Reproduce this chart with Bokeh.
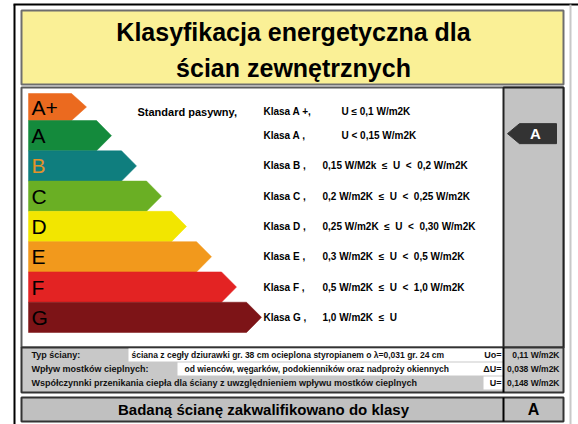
from bokeh.plotting import figure
from bokeh.models import Range1d
from bokeh.core.properties import value
from bokeh.embed import file_html
from bokeh.resources import INLINE

# ---- data ----
title_lines = ["Klasyfikacja energetyczna dla", "ścian zewnętrznych"]
classes = ["A+", "A", "B", "C", "D", "E", "F", "G"]
class_labels = ["Klasa A +,", "Klasa A ,", "Klasa B ,", "Klasa C ,", "Klasa D ,",
                "Klasa E ,", "Klasa F ,", "Klasa G ,"]
NB = "\u00a0"
class_conditions = [
    "U ≤ 0,1 W/m2K",
    "U < 0,15 W/m2K",
    f"0,15 W/M2k{NB}{NB}≤{NB}{NB}U{NB}{NB}<{NB}{NB}0,2 W/m2K",
    f"0,2 W/m2K{NB}{NB}≤{NB}{NB}U{NB}{NB}<{NB}{NB}0,25 W/m2K",
    f"0,25 W/m2K{NB}{NB}≤{NB}{NB}U{NB}{NB}<{NB}{NB}0,30 W/m2K",
    f"0,3 W/m2K{NB}{NB}≤{NB}{NB}U{NB}{NB}<{NB}{NB}0,5 W/m2K",
    f"0,5 W/m2K{NB}{NB}≤{NB}{NB}U{NB}{NB}<{NB}{NB}1,0 W/m2K",
    f"1,0 W/m2K{NB}{NB}≤{NB}{NB}U",
]
standard_note = "Standard pasywny,"
info_labels = ["Typ ściany:", "Wpływ mostków cieplnych:",
               "Współczynnki przenikania ciepła dla ściany z uwzględnieniem wpływu mostków cieplnych"]
info_values = ["ściana z cegły dziurawki gr. 38 cm ocieplona styropianem o λ=0,031 gr. 24 cm",
               "od wienców, węgarków, podokienników oraz nadproży okiennych", ""]
u_symbols = ["Uo=", "ΔU=", "U="]
u_values = ["0,11 W/m2K", "0,038 W/m2K", "0,148 W/m2K"]
result_text = "Badaną ścianę zakwalifikowano do klasy"
result_class = "A"

# ---- styles ----
palette = ["#EB6A1F", "#148A3C", "#0F7E7E", "#6AAF24", "#F2E600",
           "#F2991C", "#E32323", "#7D1417"]
letter_colors = ["black", "black", "#E4922A", "black", "black", "black", "black", "black"]
FONT = value("Liberation Sans")

p = figure(width=578, height=424, x_range=Range1d(0, 578), y_range=Range1d(424, 0),
           output_backend="svg", toolbar_location=None, min_border=0)
p.axis.visible = False
p.grid.visible = False
p.outline_line_color = None
p.background_fill_color = "white"
p.border_fill_color = "white"

# outer frame
p.line([14, 14], [4, 424], line_color="black", line_width=2)
p.line([13, 578], [4, 4], line_color="black", line_width=2)
p.line([570, 570], [4, 424], line_color="#C8C8C8", line_width=2)

# title box
p.quad(left=[21], right=[563], top=[10], bottom=[84], fill_color="#FAF096",
       line_color="#6E6E6E", line_width=2)
for k, t in enumerate(title_lines):
    p.text(x=[293], y=[31 + 36 * k], text=[t], text_font=FONT, text_font_style="bold",
           text_font_size="25px", text_align="center", text_baseline="middle",
           text_color="black")

# main box
p.quad(left=[21], right=[563], top=[87], bottom=[347], fill_color="white",
       line_color="#5A5A5A", line_width=2)
p.quad(left=[503], right=[563], top=[87], bottom=[347], fill_color="#C3C3C3",
       line_color="#222222", line_width=2)

# arrows
left = 28
first_h = 27
top0 = 93
rest_h = (332 - 120) / 7
xs, ys, mids = [], [], []
for i in range(len(classes)):
    if i == 0:
        t, b = top0, top0 + first_h
    else:
        t = top0 + first_h + (i - 1) * rest_h
        b = t + rest_h
    m = (t + b) / 2
    tip = 86 + 25 * i
    tl = 15
    xs.append([left, tip - tl, tip, tip - tl, left])
    ys.append([t, t, m, b, b])
    mids.append(m)
p.patches(xs, ys, fill_color=palette, line_color=palette, line_width=0.5)
p.text(x=[31] * len(classes), y=mids, text=classes, text_font=FONT,
       text_font_size="21px", text_align="left", text_baseline="middle",
       text_color=letter_colors)

text_y = [m + (4.5 if i == 0 else 0) for i, m in enumerate(mids)]
p.text(x=[137], y=[text_y[0]], text=[standard_note], text_font=FONT, text_font_style="bold",
       text_font_size="11px", text_baseline="middle", text_color="black")
p.text(x=[263] * len(classes), y=text_y, text=class_labels, text_font=FONT,
       text_font_style="bold", text_font_size="10px", text_baseline="middle",
       text_color="black")
cond_x = [341 if i < 2 else 322 for i in range(len(classes))]
p.text(x=cond_x, y=text_y, text=class_conditions, text_font=FONT,
       text_font_style="bold", text_font_size="10px", text_baseline="middle",
       text_color="black")

# indicator
ri = classes.index(result_class)
im = mids[ri] - 2
p.patch([507, 519, 556, 556, 519], [im, im - 10, im - 10, im + 10, im + 10],
        fill_color="#333333", line_color="#333333")
p.text(x=[535], y=[im], text=[result_class], text_font=FONT, text_font_style="bold",
       text_font_size="15px", text_align="center", text_baseline="middle",
       text_color="white")

# info band
p.quad(left=[21], right=[563], top=[347], bottom=[392], fill_color="#C8C8C8",
       line_color="#333333", line_width=2)
row_y = [354.5, 368.5, 382.5]
white_left = [128, 177, 483]
p.quad(left=white_left, right=[503] * 3, top=[y - 6.5 for y in row_y],
       bottom=[y + 6.5 for y in row_y], fill_color="white", line_color=None)
p.line([503, 503], [347, 392], line_color="black", line_width=2)
p.text(x=[31] * 3, y=row_y, text=info_labels, text_font=FONT, text_font_style="bold",
       text_font_size="9px", text_baseline="middle", text_color="#111111")
p.text(x=[131, 184, 0], y=row_y, text=info_values, text_font=FONT, text_font_style="bold",
       text_font_size="8.5px", text_baseline="middle", text_color="#111111")
p.text(x=[501] * 3, y=row_y, text=u_symbols, text_font=FONT, text_font_style="bold",
       text_font_size="9px", text_align="right", text_baseline="middle",
       text_color="#111111")
p.text(x=[559] * 3, y=row_y, text=u_values, text_font=FONT, text_font_style="bold",
       text_font_size="8.5px", text_align="right", text_baseline="middle",
       text_color="#111111")

# result box
p.quad(left=[21], right=[563], top=[397], bottom=[421], fill_color="#C0C0C0",
       line_color="#333333", line_width=2)
p.line([503, 503], [397, 421], line_color="black", line_width=2)
p.text(x=[263], y=[409], text=[result_text], text_font=FONT, text_font_style="bold",
       text_font_size="15px", text_align="center", text_baseline="middle",
       text_color="black")
p.text(x=[533], y=[409], text=[result_class], text_font=FONT, text_font_style="bold",
       text_font_size="16px", text_align="center", text_baseline="middle",
       text_color="black")

open("out.html", "w").write(file_html(p, INLINE))
